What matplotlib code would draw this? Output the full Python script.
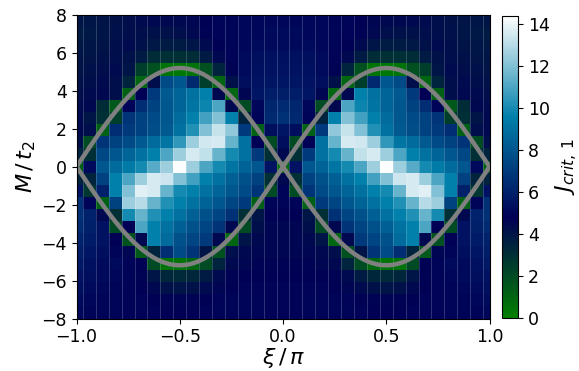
import numpy as np
import matplotlib
matplotlib.use("Agg")
import matplotlib.pyplot as plt

# cell centres
xi_centers = np.linspace(-1.0, 1.0, 33)          # xi / pi
M_centers = np.linspace(7.68, -7.68, 25)          # M / t2, top row first

# J_crit,1 values, one list per row (top row first), 33 columns from xi=-1 to xi=1
J_rows = [
    [4.0,4.0,4.1,4.2,4.3,4.4,4.5,4.5,4.5,4.6,4.8,5.0,5.0,5.1,5.1,5.1,5.1, 5.1,5.1,5.1,5.0,5.0,4.8,4.6,4.5,4.5,4.5,4.4,4.3,4.2,4.1,4.0,4.0],
    [3.8,3.9,4.0,4.2,4.3,4.3,4.2,4.2,4.3,4.5,4.7,4.9,5.0,5.1,5.1,5.2,5.2, 5.2,5.1,5.1,5.0,4.9,4.7,4.5,4.3,4.2,4.2,4.3,4.3,4.2,4.0,3.9,3.8],
    [3.9,4.0,4.1,4.3,4.4,4.2,3.9,3.8,3.8,4.0,4.4,4.8,5.0,5.1,5.2,5.2,5.2, 5.2,5.2,5.1,5.0,4.8,4.4,4.0,3.8,3.8,3.9,4.2,4.4,4.3,4.1,4.0,3.9],
    [4.0,4.1,4.2,4.3,4.2,3.8,3.2,3.0,3.0,3.2,3.8,4.5,4.9,5.2,5.3,5.4,5.4, 5.4,5.3,5.2,4.9,4.5,3.8,3.2,3.0,3.0,3.2,3.8,4.2,4.3,4.2,4.1,4.0],
    [4.1,4.2,4.3,4.4,4.0,2.5,1.8,0.5,0.3,0.5,1.8,3.5,4.7,5.2,5.4,5.5,5.5, 5.5,5.4,5.2,4.7,3.5,1.8,0.5,0.3,0.5,1.8,2.5,4.0,4.4,4.3,4.2,4.1],
    [4.2,4.3,4.4,4.3,3.5,1.0,4.3,7.6,8.0,6.3,2.5,1.0,4.2,5.3,5.5,5.6,5.6, 5.6,5.5,5.3,4.2,1.0,2.5,6.3,8.0,7.6,4.3,1.0,3.5,4.3,4.4,4.3,4.2],
    [4.3,4.4,4.5,4.3,1.2,4.8,7.0,8.2,8.6,9.0,9.6,4.5,1.0,4.6,5.6,5.9,5.9, 5.9,5.6,4.6,1.0,4.5,9.6,9.0,8.6,8.2,7.0,4.8,1.2,4.3,4.5,4.4,4.3],
    [4.4,4.5,3.2,1.5,5.0,6.5,7.2,8.0,8.6,9.2,9.8,11.0,4.5,2.0,5.1,6.2,6.4, 6.2,5.1,2.0,4.5,11.0,9.8,9.2,8.6,8.0,7.2,6.5,5.0,1.5,3.2,4.5,4.4],
    [4.5,4.0,3.0,2.5,6.8,7.2,7.6,8.0,8.8,9.6,10.8,12.0,9.6,3.5,5.0,6.3,6.6, 6.3,5.0,3.5,9.6,12.0,10.8,9.6,8.8,8.0,7.6,7.2,6.8,2.5,3.0,4.0,4.5],
    [4.5,4.3,1.2,6.5,7.0,7.3,7.7,8.2,9.0,10.2,12.0,13.3,12.3,7.0,1.2,5.3,5.6, 5.3,1.2,7.0,12.3,13.3,12.0,10.2,9.0,8.2,7.7,7.3,7.0,6.5,1.2,4.3,4.5],
    [4.3,2.0,6.8,7.2,7.6,8.2,8.8,9.2,10.5,12.5,13.5,13.6,11.5,9.0,4.8,2.0,5.3, 2.0,4.8,9.0,11.5,13.6,13.5,12.5,10.5,9.2,8.8,8.2,7.6,7.2,6.8,2.0,4.3],
    [3.5,3.0,7.5,8.0,8.6,9.0,9.6,11.0,12.5,13.6,13.2,11.5,10.0,9.0,7.0,3.0,4.5, 3.0,7.0,9.0,10.0,11.5,13.2,13.6,12.5,11.0,9.6,9.0,8.6,8.0,7.5,3.0,3.5],
    [1.2,5.2,8.0,8.8,9.4,10.0,11.2,12.5,14.4,12.5,11.0,10.0,9.2,8.5,8.0,5.5,0.8, 5.5,8.0,8.5,9.2,10.0,11.0,12.5,14.4,12.5,11.2,10.0,9.4,8.8,8.0,5.2,1.2],
    [3.5,3.5,7.3,9.6,11.0,12.5,13.6,13.4,12.0,10.8,9.6,9.0,8.4,7.8,7.2,3.0,4.5, 3.0,7.2,7.8,8.4,9.0,9.6,10.8,12.0,13.4,13.6,12.5,11.0,9.6,7.3,3.5,3.5],
    [5.5,2.8,6.0,9.6,12.0,13.8,13.6,11.5,10.0,9.6,9.0,8.6,8.0,7.6,6.8,2.0,5.0, 2.0,6.8,7.6,8.0,8.6,9.0,9.6,10.0,11.5,13.6,13.8,12.0,9.6,6.0,2.8,5.5],
    [6.6,5.0,1.2,7.2,12.5,13.0,11.5,10.2,9.6,9.0,8.5,8.0,7.4,7.0,1.2,5.0,5.0, 5.0,1.2,7.0,7.4,8.0,8.5,9.0,9.6,10.2,11.5,13.0,12.5,7.2,1.2,5.0,6.6],
    [6.6,6.1,4.5,3.0,10.0,11.5,10.2,9.6,9.0,8.4,7.8,7.4,6.6,3.0,4.0,4.8,4.8, 4.8,4.0,3.0,6.6,7.4,7.8,8.4,9.0,9.6,10.2,11.5,10.0,3.0,4.5,6.1,6.6],
    [6.4,6.0,5.5,2.0,4.8,11.0,9.6,9.0,8.4,7.8,7.4,6.8,4.5,2.0,4.3,4.6,4.6, 4.6,4.3,2.0,4.5,6.8,7.4,7.8,8.4,9.0,9.6,11.0,4.8,2.0,5.5,6.0,6.4],
    [6.1,5.8,5.5,4.8,1.8,4.5,9.6,8.8,7.8,7.4,7.0,4.5,1.0,4.0,4.5,4.6,4.6, 4.6,4.5,4.0,1.0,4.5,7.0,7.4,7.8,8.8,9.6,4.5,1.8,4.8,5.5,5.8,6.1],
    [5.9,5.6,5.3,5.0,4.6,1.5,3.5,6.5,7.6,6.8,4.0,1.8,4.3,4.5,4.6,4.6,4.6, 4.6,4.6,4.5,4.3,1.8,4.0,6.8,7.6,6.5,3.5,1.5,4.6,5.0,5.3,5.6,5.9],
    [5.7,5.4,5.2,5.2,5.0,4.8,2.0,0.5,0.5,1.0,2.0,3.5,4.5,4.6,4.7,4.7,4.7, 4.7,4.7,4.6,4.5,3.5,2.0,1.0,0.5,0.5,2.0,4.8,5.0,5.2,5.2,5.4,5.7],
    [5.5,5.3,5.2,5.1,5.0,4.7,4.0,3.4,3.3,3.4,3.8,4.4,4.7,4.8,4.8,4.8,4.8, 4.8,4.8,4.8,4.7,4.4,3.8,3.4,3.3,3.4,4.0,4.7,5.0,5.1,5.2,5.3,5.5],
    [5.3,5.2,5.1,5.0,4.9,4.8,4.5,4.2,4.1,4.2,4.4,4.6,4.8,4.9,4.9,4.9,4.9, 4.9,4.9,4.9,4.8,4.6,4.4,4.2,4.1,4.2,4.5,4.8,4.9,5.0,5.1,5.2,5.3],
    [5.2,5.1,5.0,5.0,4.9,4.9,4.8,4.7,4.7,4.7,4.8,4.9,5.0,5.0,5.0,4.9,4.9, 4.9,5.0,5.0,5.0,4.9,4.8,4.7,4.7,4.7,4.8,4.9,4.9,5.0,5.0,5.1,5.2],
    [5.1,5.0,5.0,5.0,4.9,4.9,4.9,4.8,4.8,4.8,4.9,5.0,5.0,5.0,5.0,4.9,4.9, 4.9,5.0,5.0,5.0,5.0,4.9,4.8,4.8,4.8,4.9,4.9,4.9,5.0,5.0,5.0,5.1],
]

# phase boundary amplitude (M / t2 = +- 3*sqrt(3) sin(xi))
boundary_amp = 3.0 * np.sqrt(3.0)

xticks = [-1.0, -0.5, 0.0, 0.5, 1.0]
yticks = [-8, -6, -4, -2, 0, 2, 4, 6, 8]
cticks = [0, 2, 4, 6, 8, 10, 12, 14]

W, H = 579, 371
fig = plt.figure(figsize=(W / 100, H / 100), dpi=100)
ax = fig.add_axes([76.5 / W, 1 - 318.5 / H, 413 / W, (318.5 - 14.8) / H])
cax = fig.add_axes([502.3 / W, 1 - 318.3 / H, 16 / W, (318.3 - 16) / H])

Z = np.array(J_rows)
mesh = ax.pcolormesh(xi_centers, M_centers, Z, shading="nearest",
                     cmap="ocean", vmin=0, vmax=14.4)
edges = 0.5 * (xi_centers[:-1] + xi_centers[1:])
ax.vlines(edges, -8, 8, colors="white", alpha=0.22, lw=0.6)

xc = np.linspace(-1, 1, 401)
ax.plot(xc, boundary_amp * np.sin(np.pi * xc), color="#808080", lw=3.2)
ax.plot(xc, -boundary_amp * np.sin(np.pi * xc), color="#808080", lw=3.2)

ax.set_xlim(-1, 1)
ax.set_ylim(-8, 8)
ax.set_xticks(xticks)
ax.set_yticks(yticks)
ax.tick_params(labelsize=12.5)
ax.set_xlabel(r"$\xi\,/\,\pi$", fontsize=16, labelpad=0)
ax.set_ylabel(r"$M\,/\,t_2$", fontsize=16, labelpad=2)

cb = fig.colorbar(mesh, cax=cax, ticks=cticks)
cb.ax.tick_params(labelsize=12.5)
cb.set_label(r"$J_{crit,\,1}$", fontsize=16, labelpad=3)

fig.savefig("out.png", dpi=100)
